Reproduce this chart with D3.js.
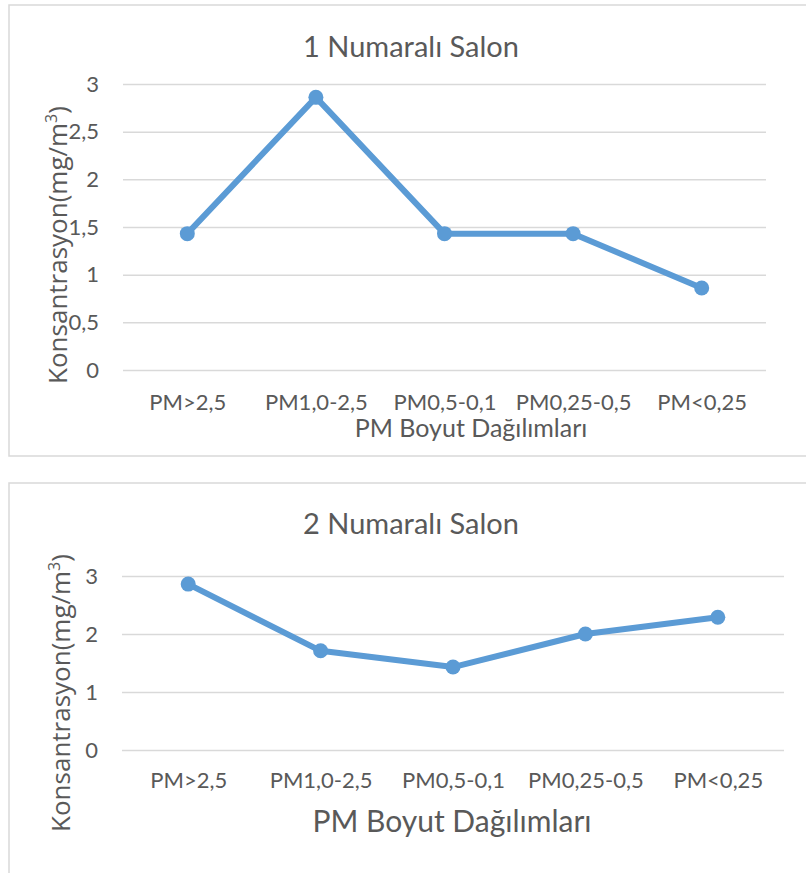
<!DOCTYPE html>
<html>
<head>
<meta charset="utf-8">
<script src="https://cdn.jsdelivr.net/npm/d3@7"></script>
<style>
    body { margin: 0; background: #fff; }
    svg text { fill: #595959; }
</style>
</head>
<body>
<svg id="chart" width="806" height="873"></svg>
<script>
'use strict';

// PM size classes on the x axis
let categories = ['PM>2,5', 'PM1,0-2,5', 'PM0,5-0,1', 'PM0,25-0,5', 'PM<0,25'];

// concentrations (mg/m3)
let salon1Values = [1.43, 2.86, 1.43, 1.43, 0.86];
let salon2Values = [2.86, 1.71, 1.43, 2.0, 2.29];

let salon1Ticks = [0, 0.5, 1, 1.5, 2, 2.5, 3];
let salon2Ticks = [0, 1, 2, 3];

let titles = ['1 Numaralı Salon', '2 Numaralı Salon'];
let xTitle = 'PM Boyut Dağılımları';

// Turkish decimal comma
let trFormat = d3.formatLocale({decimal: ',', thousands: '.', grouping: [3], currency: ['', ' TL']}).format('~g');

let svg = d3.select('#chart');
let blue = '#5b9bd5';
let labelFont = 'Lato, "Liberation Sans", sans-serif';

/**
 * Draw one Excel-style line chart panel
 */
function drawPanel(p) {
    let g = svg.append('g');

    // chart area frame
    g.append('rect')
        .attr('x', p.box[0])
        .attr('y', p.box[1])
        .attr('width', p.box[2])
        .attr('height', p.box[3])
        .attr('fill', 'none')
        .attr('stroke', '#d9d9d9')
        .attr('stroke-width', 1.5);

    let x = d3.scalePoint()
        .domain(categories)
        .range([p.left, p.right])
        .padding(0.5);
    let y = d3.scaleLinear()
        .domain([0, 3])
        .range([p.bottom, p.top]);

    // gridlines + y tick labels
    let yAxis = d3.axisLeft(y)
        .tickValues(p.ticks)
        .tickSize(-(p.right - p.left))
        .tickPadding(24)
        .tickFormat(trFormat);
    g.append('g')
        .attr('transform', 'translate(' + p.left + ',0)')
        .call(yAxis)
        .call(function(a) {
            a.select('.domain').remove();
            a.selectAll('.tick line').attr('stroke', '#d9d9d9').attr('stroke-width', 1.5);
            a.selectAll('.tick text')
                .style('font-family', labelFont)
                .style('font-size', '22px')
                .attr('fill', '#595959');
        });

    // category labels
    let xAxis = d3.axisBottom(x).tickSize(0).tickPadding(p.xPad);
    g.append('g')
        .attr('transform', 'translate(0,' + p.bottom + ')')
        .call(xAxis)
        .call(function(a) {
            a.select('.domain').remove();
            a.selectAll('.tick text')
                .style('font-family', labelFont)
                .style('font-size', '22px')
                .attr('fill', '#595959');
        });

    // series line
    let line = d3.line()
        .x(function(d, i) { return x(categories[i]); })
        .y(function(d) { return y(d); });
    g.append('path')
        .datum(p.values)
        .attr('d', line)
        .attr('fill', 'none')
        .attr('stroke', blue)
        .attr('stroke-width', 6)
        .attr('stroke-linejoin', 'round');

    g.selectAll('circle')
        .data(p.values)
        .enter().append('circle')
        .attr('cx', function(d, i) { return x(categories[i]); })
        .attr('cy', function(d) { return y(d); })
        .attr('r', 7.5)
        .attr('fill', blue);

    // chart title
    g.append('text')
        .attr('x', p.titleX)
        .attr('y', p.titleY)
        .attr('text-anchor', 'middle')
        .style('font-family', labelFont)
        .style('font-size', '29px')
        .text(p.title);

    // x axis title
    g.append('text')
        .attr('x', p.xTitleX)
        .attr('y', p.xTitleY)
        .attr('text-anchor', 'middle')
        .style('font-family', labelFont)
        .style('font-size', p.xTitleSize + 'px')
        .text(xTitle);

    // y axis title with superscript
    let yt = g.append('text')
        .attr('transform', 'translate(' + p.yTitleX + ',' + p.yTitleY + ') rotate(-90)')
        .attr('text-anchor', 'middle')
        .style('font-family', '"Open Sans", "Noto Sans", sans-serif')
        .style('font-size', '26px');
    yt.append('tspan').text('Konsantrasyon(mg/m');
    yt.append('tspan').attr('dy', -10).style('font-size', '16px').text('3');
    yt.append('tspan').attr('dy', 10).text(')');
}

drawPanel({
    box: [9, 5, 810, 451],
    left: 123, right: 766, top: 84, bottom: 370,
    ticks: salon1Ticks, values: salon1Values,
    title: titles[0], titleX: 411, titleY: 57,
    xPad: 24, xTitleX: 471, xTitleY: 437, xTitleSize: 25,
    yTitleX: 67, yTitleY: 245
});

drawPanel({
    box: [9, 483, 810, 400],
    left: 122, right: 784, top: 576, bottom: 750,
    ticks: salon2Ticks, values: salon2Values,
    title: titles[1], titleX: 411, titleY: 534,
    xPad: 22, xTitleX: 452, xTitleY: 832, xTitleSize: 30,
    yTitleX: 70, yTitleY: 693
});
</script>
</body>
</html>
